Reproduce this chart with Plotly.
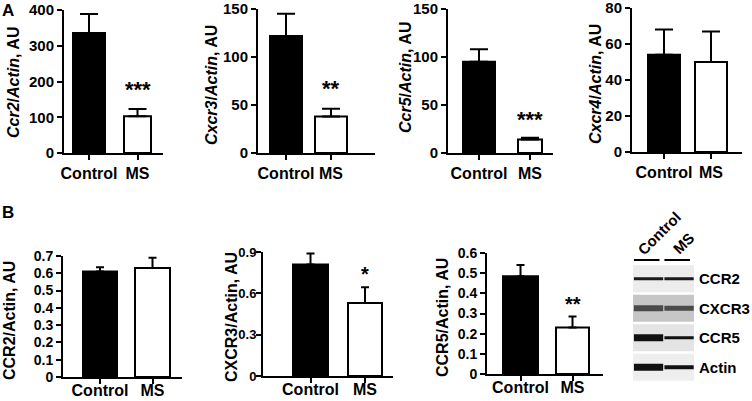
import plotly.graph_objects as go

W, H = 752, 401

# ---------------- data ----------------
groups = ["Control", "MS"]

ccr2_mrna = [336, 103]
ccr2_mrna_err = [389, 123]
cxcr3_mrna = [122, 38]
cxcr3_mrna_err = [145, 46]
ccr5_mrna = [95, 14]
ccr5_mrna_err = [108, 16]
cxcr4_mrna = [54, 50]
cxcr4_mrna_err = [68, 67]

ccr2_prot = [0.61, 0.63]
ccr2_prot_err = [0.635, 0.69]
cxcr3_prot = [0.81, 0.53]
cxcr3_prot_err = [0.89, 0.645]
ccr5_prot = [0.485, 0.23]
ccr5_prot_err = [0.54, 0.285]

stars = {"A1": "***", "A2": "**", "A3": "***", "A4": "", "B1": "", "B2": "*", "B3": "**"}

blot_rows = ["CCR2", "CXCR3", "CCR5", "Actin"]
band_control = [3, 6, 7, 7]      # band thickness (intensity), control lane
band_ms = [3, 5, 3, 4]           # band thickness (intensity), MS lane
band_colors = ["#1a1a1a", "#4a4a4a", "#111111", "#111111"]
row_bg = ["#ececec", "#c6c6c6", "#e4e4e4", "#eeeeee"]

# ---------------- layout specs (pixels) ----------------
panels = [
    # key, values, err, title, yrange, dtick, domx, domy, centers, widths, capw, tickfont, titlex, titley, labshift, starsize, starshift, ylabshift
    ("A1", ccr2_mrna, ccr2_mrna_err, "<i>Ccr2</i>/<i>Actin</i>, AU", [0, 400], 100, (64, 163), (10, 153), (89, 137.5), (32, 27), 9, 15, 13, 83, 0, 22, 5, 0),
    ("A2", cxcr3_mrna, cxcr3_mrna_err, "<i>Cxcr3</i>/<i>Actin</i>, AU", [0, 150], 50, (258, 375), (9, 153), (286, 331), (32, 32), 9, 15, 211, 85, 0, 22, 6, 0),
    ("A3", ccr5_mrna, ccr5_mrna_err, "<i>Ccr5</i>/<i>Actin</i>, AU", [0, 150], 50, (448, 553), (9, 153), (479, 530), (32, 24), 9, 15, 405, 78, 0, 22, 4, 0),
    ("A4", cxcr4_mrna, cxcr4_mrna_err, "<i>Cxcr4</i>/<i>Actin</i>, AU", [0, 80], 20, (632, 742), (8, 152), (664, 711), (32, 32), 9, 15, 595, 84, 0, 22, 0, 0),
    ("B1", ccr2_prot, ccr2_prot_err, "CCR2/Actin, AU", [0, 0.7], 0.1, (63, 182), (256, 377), (100, 152.5), (34, 35), 4, 14, 9, 321, -7, 20, 0, 0),
    ("B2", cxcr3_prot, cxcr3_prot_err, "CXCR3/Actin, AU", [0, 0.9], 0.3, (263, 393), (252, 376), (310.5, 365), (35, 34), 4, 13, 231, 317, -7, 20, 0, -3),
    ("B3", ccr5_prot, ccr5_prot_err, "CCR5/Actin, AU", [0, 0.6], 0.1, (487, 603), (253, 374), (520.5, 572.5), (35, 33), 4, 14, 442, 318, -7, 20, 0, 0),
]

FONT = "Liberation Sans"


def px(x):
    return x / W


def py(y):
    return 1 - y / H


fig = go.Figure()
layout = dict(
    width=W, height=H, margin=dict(l=0, r=0, t=0, b=0, autoexpand=False),
    paper_bgcolor="white", plot_bgcolor="rgba(0,0,0,0)",
    showlegend=False, annotations=[], shapes=[],
)

for i, (key, vals, errs, title, yr, dt, domx, domy, cen, wid, capw, tfs, tx, ty, lsh, ssz, ssh, ylsh) in enumerate(panels):
    n = i + 1
    xa = "x" if n == 1 else f"x{n}"
    ya = "y" if n == 1 else f"y{n}"
    scale = cen[1] - cen[0]
    xrange = [(domx[0] - cen[0]) / scale, 1 + (domx[1] - cen[1]) / scale]
    widths = [w / scale for w in wid]
    fig.add_trace(go.Bar(
        x=groups, y=vals, xaxis=xa, yaxis=ya, width=widths,
        marker=dict(color=["black", "white"], line=dict(color="black", width=2)),
        error_y=dict(type="data", symmetric=False,
                     array=[e - v for e, v in zip(errs, vals)],
                     arrayminus=[0, 0], thickness=2, width=capw, color="black"),
    ))
    xk = "xaxis" if n == 1 else f"xaxis{n}"
    yk = "yaxis" if n == 1 else f"yaxis{n}"
    layout[xk] = dict(
        domain=[px(domx[0]), px(domx[1])], anchor=ya, range=xrange, automargin=False,
        type="category", showline=True, linecolor="black", linewidth=2,
        ticks="outside", ticklen=5, tickwidth=2, tickcolor="black",
        ticklabelstandoff=lsh, ticklabeloverflow="allow",
        tickfont=dict(family=FONT, size=16, color="black", weight="bold"),
        showgrid=False, zeroline=False, fixedrange=True,
    )
    layout[yk] = dict(
        domain=[py(domy[1]), py(domy[0])], anchor=xa, range=yr, dtick=dt, tick0=0,
        automargin=False, ticklabelstandoff=ylsh, ticklabeloverflow="allow",
        showline=True, linecolor="black", linewidth=2,
        ticks="outside", ticklen=5, tickwidth=2, tickcolor="black",
        tickfont=dict(family=FONT, size=tfs, color="black", weight="bold"),
        showgrid=False, zeroline=False, fixedrange=True,
    )
    layout["annotations"].append(dict(
        text=title, textangle=-90, xref="paper", yref="paper",
        x=px(tx), y=py(ty), xanchor="center", yanchor="middle", showarrow=False,
        font=dict(family=FONT, size=16, color="black", weight="bold"),
    ))
    if stars[key]:
        layout["annotations"].append(dict(
            text=stars[key], xref=xa, yref=ya, x="MS", y=errs[1],
            yanchor="bottom", xanchor="center", yshift=ssh, showarrow=False,
            font=dict(family=FONT, size=ssz, color="black", weight="bold"),
        ))

# panel letters
for letter, (lx, ly) in {"A": (8, 11), "B": (8, 212)}.items():
    layout["annotations"].append(dict(
        text=letter, xref="paper", yref="paper", x=px(lx), y=py(ly),
        xanchor="center", yanchor="middle", showarrow=False,
        font=dict(family=FONT, size=17, color="black", weight="bold"),
    ))

# ---------------- western blot ----------------
layout["xaxis8"] = dict(domain=[px(633), px(694)], range=[0, 2], anchor="y8",
                        visible=False, fixedrange=True, automargin=False)
layout["yaxis8"] = dict(domain=[py(382), py(264)], range=[4, 0], anchor="x8",
                        visible=False, fixedrange=True, automargin=False)
for r, name in enumerate(blot_rows):
    layout["shapes"].append(dict(type="rect", xref="x8", yref="y8", x0=0, x1=2,
                                 y0=r + 0.04, y1=r + 0.96, fillcolor=row_bg[r],
                                 line=dict(width=0), layer="below"))
    for lane, bw in enumerate([band_control[r], band_ms[r]]):
        fig.add_trace(go.Scatter(
            x=[lane + 0.03, lane + 0.99], y=[r + 0.5, r + 0.5], xaxis="x8", yaxis="y8",
            mode="lines", line=dict(color=band_colors[r], width=bw), hoverinfo="skip",
        ))
    layout["annotations"].append(dict(
        text=name, xref="x8", yref="y8", x=2, y=r + 0.5, xshift=3,
        xanchor="left", yanchor="middle", showarrow=False,
        font=dict(family=FONT, size=15, color="black", weight="bold"),
    ))

for lane, (name, cx, cy) in enumerate([("Control", 659, 234), ("MS", 683, 243)]):
    layout["annotations"].append(dict(
        text=name, textangle=-45, xref="paper", yref="paper", x=px(cx), y=py(cy),
        xanchor="center", yanchor="middle", showarrow=False,
        font=dict(family=FONT, size=15, color="black", weight="bold"),
    ))
    layout["shapes"].append(dict(type="line", xref="x8", yref="paper",
                                 x0=lane + 0.03, x1=lane + 0.87, y0=py(260), y1=py(260),
                                 line=dict(color="black", width=2)))

fig.update_layout(**layout)
fig.write_html("out.html", config={"displayModeBar": False},
               post_script="document.body.style.margin='0';document.body.style.overflow='hidden';")
